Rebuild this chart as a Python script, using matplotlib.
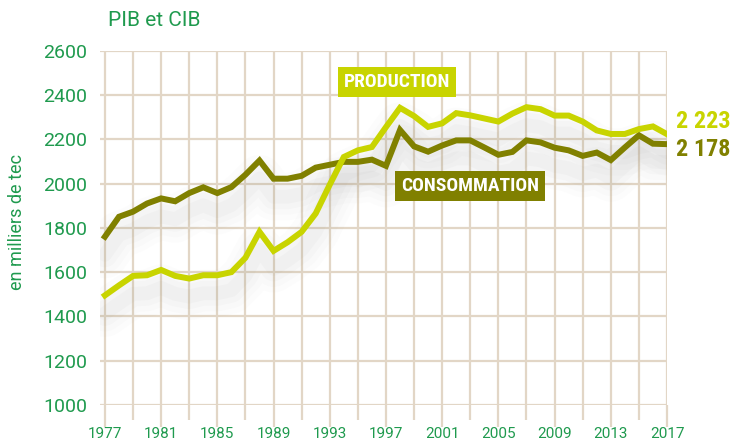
import matplotlib
matplotlib.use("Agg")
import matplotlib.pyplot as plt
import matplotlib.transforms as mtransforms
from matplotlib import font_manager
import numpy as np

years = list(range(1977, 2018))
production = [1495, 1540, 1583, 1586, 1610, 1583, 1571, 1586, 1586, 1600, 1665,
              1782, 1696, 1735, 1782, 1865, 1995, 2120, 2150, 2165, 2255, 2342,
              2305, 2256, 2272, 2318, 2308, 2294, 2280, 2316, 2345, 2336, 2307,
              2307, 2280, 2240, 2224, 2224, 2246, 2258, 2223]
consommation = [1760, 1850, 1873, 1910, 1933, 1920, 1957, 1983, 1957, 1984, 2040,
                2104, 2022, 2022, 2035, 2072, 2085, 2098, 2098, 2108, 2080, 2242,
                2168, 2144, 2172, 2195, 2195, 2163, 2130, 2143, 2195, 2186, 2162,
                2150, 2125, 2140, 2106, 2163, 2218, 2180, 2178]
ytick_values = list(range(1000, 2601, 200))
xtick_labels = list(range(1977, 2018, 4))

GREEN = "#1f9a4e"
LIGHT = "#c8d400"
DARK = "#808000"
GRID = "#e2d6c6"

plt.rcParams['font.family'] = ['Roboto', 'DejaVu Sans']

names = sorted({f.name for f in font_manager.fontManager.ttflist})
narrow = None
for cand in ['Liberation Sans Narrow', 'Roboto Condensed', 'DejaVu Sans Condensed']:
    if cand in names:
        narrow = cand
        break
bold_kw = dict(fontweight='bold')
if narrow:
    bold_kw['family'] = [narrow, 'DejaVu Sans']
else:
    bold_kw['family'] = ['DejaVu Sans']
    bold_kw['fontstretch'] = 'condensed'

fig = plt.figure(figsize=(7.37, 4.42), dpi=100)
ax = fig.add_axes([100/737, 1-405/442, (667-100)/737, (405-50.7)/442])
ax.set_xlim(1976.65, 2017)
ax.set_ylim(1000, 2600)
ax.patch.set_alpha(0)
for s in ax.spines.values():
    s.set_visible(False)

# grid
for yv in ytick_values:
    ax.axhline(yv, color=GRID, lw=1.6, zorder=1)
for xv in range(1977, 2018, 2):
    ax.axvline(xv, color=GRID, lw=1.6, zorder=1)

# shadows
for vals in (consommation, production):
    for w, a in [(34, 0.02), (26, 0.025), (18, 0.03), (10, 0.035)]:
        tr = mtransforms.offset_copy(ax.transData, fig=fig, x=0, y=-18, units='dots')
        ax.plot(years, vals, color="#808080", lw=w, alpha=a, transform=tr,
                solid_capstyle='round', solid_joinstyle='round', zorder=2)

ax.plot(years, consommation, color=DARK, lw=4.3, solid_joinstyle='miter', zorder=4)
ax.plot(years, production, color=LIGHT, lw=4.3, solid_joinstyle='miter', zorder=5)

# ticks
ax.set_yticks(ytick_values)
ax.set_yticklabels([str(v) for v in ytick_values], color=GREEN, fontsize=14)
ax.tick_params(axis='y', length=0, pad=9)
ax.set_xticks(xtick_labels)
ax.set_xticklabels([str(v) for v in xtick_labels], color=GREEN, fontsize=11)
ax.tick_params(axis='x', length=16, width=1.6, color=GRID, pad=0, direction='out')
ax.set_xticks(list(range(1979, 2018, 4)), minor=True)
ax.tick_params(axis='x', which='minor', length=11, width=1.6, color=GRID)

fig.text(108/737, 1-21/442, "PIB et CIB", color=GREEN, fontsize=15, va='center', ha='left')
fig.text(17/737, 1-222/442, "en milliers de tec", color=GREEN, fontsize=13,
         rotation=90, va='center', ha='center')

fig.text(397/737, 1-82/442, "PRODUCTION", color="white", fontsize=14,
         ha='center', va='center',
         bbox=dict(boxstyle='square,pad=0.3', fc=LIGHT, ec='none'), **bold_kw)
fig.text(470/737, 1-186/442, "CONSOMMATION", color="white", fontsize=14,
         ha='center', va='center',
         bbox=dict(boxstyle='square,pad=0.3', fc=DARK, ec='none'), **bold_kw)

fig.text(676/737, 1-121/442, "2 223", color=LIGHT, fontsize=17.5,
         ha='left', va='center', **bold_kw)
fig.text(676/737, 1-150/442, "2 178", color=DARK, fontsize=17.5,
         ha='left', va='center', **bold_kw)

fig.savefig("out.png", dpi=100)
